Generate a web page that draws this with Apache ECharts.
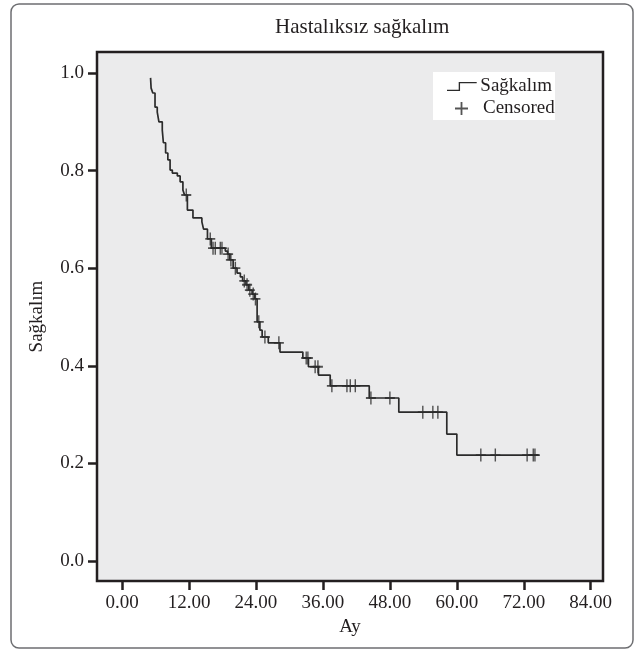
<!DOCTYPE html>
<html>
<head>
    <meta charset="utf-8">
    <title>Hastalıksız sağkalım</title>
    <script src="https://cdn.jsdelivr.net/npm/echarts/dist/echarts.min.js"></script>
    <style>
        html, body { margin: 0; padding: 0; background: #fff; }
    </style>
</head>
<body>
    <div id="main" style="width: 644px; height: 653px;"></div>
    <script type="text/javascript">
        // Kaplan-Meier basamaklari: zaman (ay) ve o andan sonraki sagkalim
        var stepTimes = [5.1, 5.2, 5.5, 5.9, 6.3, 6.6, 7.2, 7.4, 7.8, 8.2,
            8.6, 9.0, 9.9, 10.4, 10.9, 11.2, 11.7, 12.7, 14.3, 14.6,
            15.3, 16.0, 18.5, 18.9, 19.3, 19.9, 20.6, 21.2, 21.6, 22.2,
            22.7, 23.3, 23.8, 24.2, 24.7, 25.1, 26.2, 28.3, 32.4, 33.4,
            35.2, 37.3, 44.3, 49.6, 58.2, 60.0, 74.7];
        var survival = [0.990, 0.969, 0.959, 0.930, 0.920, 0.900, 0.883, 0.857, 0.836, 0.822,
            0.801, 0.795, 0.789, 0.777, 0.760, 0.750, 0.719, 0.703, 0.695, 0.680,
            0.660, 0.641, 0.635, 0.629, 0.617, 0.600, 0.590, 0.582, 0.574, 0.566,
            0.555, 0.547, 0.537, 0.490, 0.473, 0.459, 0.447, 0.428, 0.416, 0.398,
            0.381, 0.359, 0.334, 0.305, 0.260, 0.217, 0.217];
        // sansurlu gozlemler (ay)
        var censorTimes = [11.5, 15.8, 16.3, 16.7, 17.6, 17.9, 19.0, 19.5, 20.3, 21.9,
            22.4, 22.9, 23.5, 23.9, 24.5, 25.6, 28.1, 33.0, 33.3, 34.6,
            35.1, 37.6, 40.3, 40.9, 41.8, 44.6, 48.0, 53.9, 55.7, 56.6,
            64.3, 66.9, 72.6, 73.7, 74.0];
        var xTicks = [0, 12, 24, 36, 48, 60, 72, 84];
        var yTicks = [0, 0.2, 0.4, 0.6, 0.8, 1.0];

        var ink = '#231f20';
        var font = 'Liberation Serif';
        var plusPath = 'path://M4.3,0h1.4v4.3h4.3v1.4h-4.3v4.3h-1.4v-4.3h-4.3v-1.4h4.3z';
        var stepPath = 'path://M0,8.5h13v-8.5h20v1.5h-18.5v8.5h-14.5z';

        function levelAt(t) {
            var s = survival[0];
            for (var i = 0; i < stepTimes.length; i++) {
                if (stepTimes[i] <= t) s = survival[i];
            }
            return s;
        }

        var curve = stepTimes.map(function (t, i) { return [t, survival[i]]; });
        var censored = censorTimes.map(function (t) { return [t, levelAt(t)]; });

        var myChart = echarts.init(document.getElementById('main'));

        var option = {
            animation: false,
            backgroundColor: '#fff',
            title: {
                text: 'Hastalıksız sağkalım',
                left: 270,
                top: 12,
                textStyle: { fontFamily: font, fontSize: 21, fontWeight: 'normal', color: ink }
            },
            graphic: [
                {
                    type: 'rect',
                    shape: { x: 11, y: 4, width: 622, height: 644, r: 8 },
                    style: { fill: 'none', stroke: '#6d6e71', lineWidth: 1.5 },
                    z: 0
                },
                {
                    type: 'rect',
                    shape: { x: 433, y: 72, width: 122, height: 48 },
                    style: { fill: '#fff' },
                    z: 5
                }
            ],
            legend: [
                {
                    data: [{ name: 'Sağkalım', icon: stepPath }],
                    left: 447,
                    top: 77,
                    itemWidth: 33,
                    itemHeight: 9,
                    itemGap: 0,
                    padding: 0,
                    z: 6,
                    textStyle: { fontFamily: font, fontSize: 19, color: ink, padding: [0, 0, 0, -3] }
                },
                {
                    data: [{ name: 'Censored', icon: plusPath }],
                    left: 455,
                    top: 99,
                    itemWidth: 13,
                    itemHeight: 15,
                    padding: 0,
                    z: 6,
                    textStyle: { fontFamily: font, fontSize: 19, color: ink, padding: [0, 0, 0, 10] }
                }
            ],
            grid: {
                show: true,
                left: 97,
                right: 41,
                top: 52,
                bottom: 72,
                backgroundColor: '#ebebec',
                borderColor: ink,
                borderWidth: 2.5
            },
            xAxis: {
                type: 'value',
                min: -4.5,
                max: 86.2,
                name: 'Ay',
                nameLocation: 'middle',
                nameGap: 37,
                nameTextStyle: { fontFamily: font, fontSize: 19, color: ink },
                axisLine: { show: false, onZero: false },
                splitLine: { show: false },
                axisTick: {
                    show: true,
                    customValues: xTicks,
                    length: 9,
                    lineStyle: { color: ink, width: 2.5 }
                },
                axisLabel: {
                    customValues: xTicks,
                    margin: 13,
                    fontFamily: font,
                    fontSize: 19,
                    color: ink,
                    formatter: function (v) { return v.toFixed(2); }
                }
            },
            yAxis: {
                type: 'value',
                min: -0.041,
                max: 1.043,
                name: 'Sağkalım',
                nameLocation: 'middle',
                nameGap: 50,
                nameTextStyle: { fontFamily: font, fontSize: 19, color: ink },
                axisLine: { show: false, onZero: false },
                splitLine: { show: false },
                axisTick: {
                    show: true,
                    customValues: yTicks,
                    length: 9,
                    lineStyle: { color: ink, width: 2.5 }
                },
                axisLabel: {
                    customValues: yTicks,
                    margin: 13,
                    fontFamily: font,
                    fontSize: 19,
                    color: ink,
                    formatter: function (v) { return v.toFixed(1); }
                }
            },
            series: [
                {
                    name: 'Sağkalım',
                    type: 'line',
                    step: 'end',
                    data: curve,
                    showSymbol: false,
                    lineStyle: { color: '#2b2b2b', width: 1.7 },
                    itemStyle: { color: '#2b2b2b' }
                },
                {
                    name: 'Censored',
                    type: 'scatter',
                    data: censored,
                    symbol: plusPath,
                    symbolSize: [10, 13],
                    itemStyle: { color: '#2b2b2b' },
                    z: 3
                }
            ]
        };

        myChart.setOption(option);
    </script>
</body>
</html>
